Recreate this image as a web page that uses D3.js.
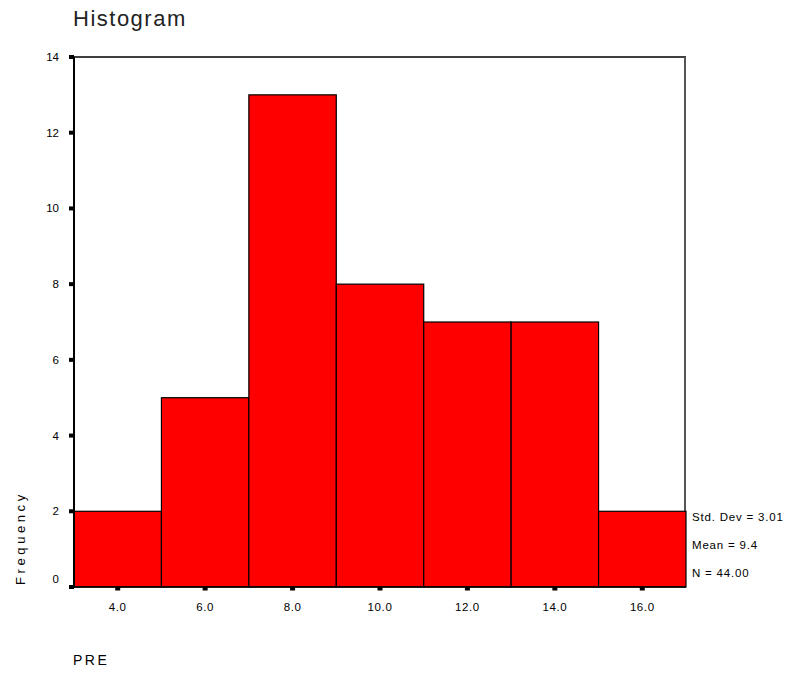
<html>
<head>
<style>
    body { margin: 0; background: #fff; }
    text { font-family: "Liberation Sans", Arial, sans-serif; fill: #000; }
</style>
</head>
<body>
    <script src="https://cdn.jsdelivr.net/npm/d3@7/dist/d3.min.js"></script>
    <div id="chart"></div>

    <script>
        // PRE histogram data (bin midpoints, bin width 2)
        var binCenters = [4, 6, 8, 10, 12, 14, 16];
        var counts = [2, 5, 13, 8, 7, 7, 2];
        var yTicks = [0, 2, 4, 6, 8, 10, 12, 14];
        var xTickLabels = ["4.0", "6.0", "8.0", "10.0", "12.0", "14.0", "16.0"];
        var statsLines = ["Std. Dev = 3.01", "Mean = 9.4", "N = 44.00"];
        var binWidth = 2;

        var data = binCenters.map(function (c, i) { return { mid: c, n: counts[i] }; });

        var W = 789, H = 673;
        // plot box (note: "top" is a window global, so use other names)
        var plotL = 74, plotR = 686, plotT = 57, plotB = 587;

        var svg = d3.select("#chart")
            .append("svg")
            .attr("width", W)
            .attr("height", H);

        var x = d3.scaleLinear()
            .domain([3, 17])
            .range([plotL, plotR]);

        var y = d3.scaleLinear()
            .domain([0, 14])
            .range([plotB, plotT]);

        // title
        svg.append("text")
            .attr("x", 73)
            .attr("y", 26)
            .style("font-size", "22px")
            .style("letter-spacing", "1.5px")
            .style("fill", "#222")
            .text("Histogram");

        // frame: top + right border
        svg.append("line")
            .attr("x1", plotL).attr("x2", plotR)
            .attr("y1", plotT).attr("y2", plotT)
            .attr("stroke", "#000").attr("stroke-width", 1.5);
        svg.append("line")
            .attr("x1", plotR - 1).attr("x2", plotR - 1)
            .attr("y1", plotT).attr("y2", plotB)
            .attr("stroke", "#555").attr("stroke-width", 2);

        // bars
        svg.selectAll("rect.bar")
            .data(data)
            .enter()
            .append("rect")
            .attr("class", "bar")
            .attr("x", function (d) { return x(d.mid - binWidth / 2); })
            .attr("y", function (d) { return y(d.n); })
            .attr("width", function (d) { return x(d.mid + binWidth / 2) - x(d.mid - binWidth / 2); })
            .attr("height", function (d) { return y(0) - y(d.n); })
            .attr("fill", "#ff0000")
            .attr("stroke", "#000")
            .attr("stroke-width", 1.2);

        // left axis line
        svg.append("line")
            .attr("x1", plotL).attr("x2", plotL)
            .attr("y1", plotT).attr("y2", plotB + 1)
            .attr("stroke", "#000").attr("stroke-width", 2);

        // bottom line
        svg.append("line")
            .attr("x1", plotL).attr("x2", plotR)
            .attr("y1", plotB).attr("y2", plotB)
            .attr("stroke", "#000").attr("stroke-width", 1.5);

        // y ticks (small squares) + labels
        svg.selectAll("rect.ytick")
            .data(yTicks)
            .enter()
            .append("rect")
            .attr("class", "ytick")
            .attr("x", plotL - 5)
            .attr("y", function (d) { return y(d) - 2; })
            .attr("width", 5)
            .attr("height", 4)
            .attr("fill", "#000");

        svg.selectAll("text.ylab")
            .data(yTicks)
            .enter()
            .append("text")
            .attr("class", "ylab")
            .attr("x", 59)
            .attr("y", function (d) { return y(d) - (d === 0 ? 8 : 0); })
            .attr("dy", "0.35em")
            .attr("text-anchor", "end")
            .style("font-size", "11.5px")
            .text(function (d) { return d; });

        // x ticks + labels
        svg.selectAll("rect.xtick")
            .data(binCenters)
            .enter()
            .append("rect")
            .attr("class", "xtick")
            .attr("x", function (d) { return x(d) - 2.5; })
            .attr("y", plotB)
            .attr("width", 5)
            .attr("height", 3.5)
            .attr("fill", "#000");

        svg.selectAll("text.xlab")
            .data(binCenters)
            .enter()
            .append("text")
            .attr("class", "xlab")
            .attr("x", function (d) { return x(d); })
            .attr("y", 611)
            .attr("text-anchor", "middle")
            .style("font-size", "11.5px")
            .style("letter-spacing", "0.6px")
            .text(function (d, i) { return xTickLabels[i]; });

        // axis titles
        svg.append("text")
            .attr("transform", "translate(25,585) rotate(-90)")
            .style("font-size", "13px")
            .style("letter-spacing", "3.6px")
            .text("Frequency");

        svg.append("text")
            .attr("x", 73)
            .attr("y", 665)
            .style("font-size", "14px")
            .style("letter-spacing", "2.5px")
            .text("PRE");

        // stats box
        svg.selectAll("text.stat")
            .data(statsLines)
            .enter()
            .append("text")
            .attr("class", "stat")
            .attr("x", 692)
            .attr("y", function (d, i) { return 521 + i * 28; })
            .style("font-size", "11.5px")
            .style("letter-spacing", "0.8px")
            .text(function (d) { return d; });
    </script>
</body>
</html>
